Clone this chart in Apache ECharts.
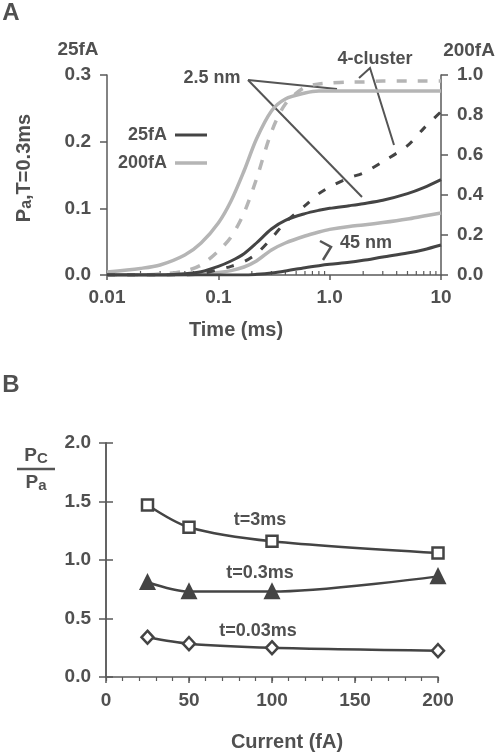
<!DOCTYPE html>
<html><head><meta charset="utf-8">
<script src="https://cdn.jsdelivr.net/npm/echarts@6/dist/echarts.min.js"></script>
<style>html,body{margin:0;padding:0;background:#fff}#c{width:495px;height:755px}</style>
</head><body><div id="c"></div>
<script>
// ---------- Panel A data (time in ms, log axis) ----------
const timeMs = [0.01,0.02,0.03,0.05,0.07,0.1,0.13,0.17,0.22,0.3,0.4,0.6,0.8,1,1.5,2,3,5,7,10];
// 25 fA curves (left axis, Pa)
const pa25_2p5nm   = [0,0,0,0.002,0.005,0.013,0.021,0.032,0.048,0.069,0.082,0.092,0.097,0.1,0.104,0.107,0.112,0.122,0.131,0.143];
const pa25_cluster = [0,0,0,0,0.002,0.008,0.013,0.02,0.032,0.055,0.079,0.104,0.122,0.132,0.146,0.153,0.17,0.194,0.22,0.245];
const pa25_45nm    = [0,0,0,0,0,0,0,0,0.001,0.003,0.006,0.011,0.014,0.016,0.019,0.022,0.027,0.033,0.038,0.045];
// 200 fA curves (right axis, Pa)
const pa200_2p5nm   = [0.015,0.033,0.05,0.1,0.16,0.26,0.37,0.52,0.68,0.82,0.88,0.91,0.92,0.92,0.92,0.92,0.92,0.92,0.92,0.92];
const pa200_cluster = [0,0,0.005,0.02,0.05,0.12,0.19,0.31,0.48,0.715,0.855,0.94,0.955,0.96,0.965,0.965,0.97,0.97,0.97,0.97];
const pa200_45nm    = [0,0,0,0.002,0.005,0.012,0.022,0.04,0.07,0.125,0.16,0.195,0.215,0.228,0.243,0.25,0.262,0.28,0.295,0.31];
const logMinorTicks = [0.02,0.03,0.04,0.05,0.06,0.07,0.08,0.09,0.2,0.3,0.4,0.5,0.6,0.7,0.8,0.9,2,3,4,5,6,7,8,9];
const timeTickLabels = {'0.01':'0.01','0.1':'0.1','1':'1.0','10':'10'};

// ---------- Panel B data ----------
const currentFA = [25,50,100,200];
const ratio_t3ms   = [1.47,1.28,1.16,1.06];
const ratio_t0p3ms = [0.81,0.73,0.73,0.86];
const ratio_t0p03ms= [0.34,0.285,0.25,0.225];

const FONT = "'Liberation Sans', Arial, sans-serif";
const TXT = '#505050';
const AX = '#5a5a5a';
const DARK = '#444444';
const LIGHT = '#b5b5b5';

function pairs(xs, ys){ return xs.map((x,i)=>[x, ys[i]]); }
function fmt1(v){ return v.toFixed(1); }

const chart = echarts.init(document.getElementById('c'), null, {renderer:'canvas'});

const axLine = {show:true, lineStyle:{color:AX, width:1.5}};
const lblStyle = {color:TXT, fontFamily:FONT, fontWeight:'bold', fontSize:19};

function darkLine(name, data, dashed){
  return {type:'line', name, xAxisIndex:0, yAxisIndex:0, data, symbol:'none', smooth:0.3,
    itemStyle:{color:DARK},
    lineStyle:{color:DARK, width:3, type: dashed ? [8,12] : 'solid'}, z:3};
}
function lightLine(name, data, dashed){
  return {type:'line', name, xAxisIndex:0, yAxisIndex:1, data, symbol:'none', smooth:0.3,
    itemStyle:{color:LIGHT},
    lineStyle:{color:LIGHT, width:3.5, type: dashed ? [10,11] : 'solid'}, z:2};
}
function bLine(data, symbol, size, filled){
  return {type:'line', xAxisIndex:1, yAxisIndex:2, data, symbol, symbolSize:size, smooth:0.3,
    showSymbol:true,
    lineStyle:{color:DARK, width:2.5},
    itemStyle:{color: filled ? DARK : '#ffffff', borderColor:DARK, borderWidth:2.5}};
}

const legendText = {color:TXT, fontFamily:FONT, fontWeight:'bold', fontSize:18, padding:[0,3,0,0]};
const option = {
  animation:false,
  backgroundColor:'#ffffff',
  grid:[
    {left:107, top:75, width:334, height:200},
    {left:106, top:443, width:332, height:234}
  ],
  legend:[
    {data:['25fA'], right:283, top:121, orient:'vertical', align:'right', icon:'rect',
     itemWidth:32, itemHeight:3, textStyle:legendText},
    {data:['200fA'], right:283, top:149, orient:'vertical', align:'right', icon:'rect',
     itemWidth:32, itemHeight:3.5, textStyle:legendText}
  ],
  xAxis:[
    {type:'log', logBase:10, gridIndex:0, min:0.01, max:10,
     axisLine:axLine, axisTick:{show:true, length:5, lineStyle:{color:AX, width:1.5}},
     axisLabel:Object.assign({margin:13, formatter:v=>timeTickLabels[String(+v.toPrecision(3))] || ''}, lblStyle),
     splitLine:{show:false}},
    {type:'value', gridIndex:1, min:0, max:200, interval:50,
     axisLine:axLine, axisTick:{show:true, length:6, lineStyle:{color:AX, width:1.5}},
     axisLabel:Object.assign({margin:14}, lblStyle), splitLine:{show:false}},
    {type:'value', gridIndex:1, min:0, max:200, interval:10,
     axisLine:{show:false}, axisTick:{show:true, inside:true, length:4, lineStyle:{color:AX, width:1.2}},
     axisLabel:{show:false}, splitLine:{show:false}}
  ],
  yAxis:[
    {type:'value', gridIndex:0, position:'left', min:0, max:0.3, interval:0.1,
     axisLine:axLine, axisTick:{show:true, length:7, lineStyle:{color:AX, width:1.5}},
     axisLabel:Object.assign({margin:16, formatter:fmt1}, lblStyle), splitLine:{show:false}},
    {type:'value', gridIndex:0, position:'right', min:0, max:1.0, interval:0.2,
     axisLine:axLine, axisTick:{show:true, length:7, lineStyle:{color:AX, width:1.5}},
     axisLabel:Object.assign({margin:16, formatter:fmt1}, lblStyle), splitLine:{show:false}},
    {type:'value', gridIndex:1, position:'left', min:0, max:2.0, interval:0.5,
     axisLine:axLine, axisTick:{show:true, length:7, lineStyle:{color:AX, width:1.5}},
     axisLabel:Object.assign({margin:15, formatter:fmt1}, lblStyle), splitLine:{show:false}},
    {type:'value', gridIndex:1, position:'right', min:0, max:2.0, interval:0.5,
     axisLine:axLine, axisTick:{show:true, length:7, lineStyle:{color:AX, width:1.5}},
     axisLabel:{show:false}, splitLine:{show:false}}
  ],
  series:[
    lightLine('200fA', pairs(timeMs, pa200_2p5nm), false),
    lightLine('200fA', pairs(timeMs, pa200_cluster), true),
    lightLine('200fA', pairs(timeMs, pa200_45nm), false),
    darkLine('25fA', pairs(timeMs, pa25_2p5nm), false),
    darkLine('25fA', pairs(timeMs, pa25_cluster), true),
    darkLine('25fA', pairs(timeMs, pa25_45nm), false),
    {type:'custom', xAxisIndex:0, yAxisIndex:0, silent:true, clip:false,
     data: logMinorTicks.map(t=>[t,0]),
     renderItem:(params, api)=>{
       const p = api.coord([api.value(0), 0]);
       return {type:'line', shape:{x1:p[0], y1:p[1], x2:p[0], y2:p[1]-4}, style:{stroke:AX, lineWidth:1.2}};
     }},
    bLine(pairs(currentFA, ratio_t3ms), 'rect', 11, false),
    bLine(pairs(currentFA, ratio_t0p3ms), 'triangle', 13, true),
    bLine(pairs(currentFA, ratio_t0p03ms), 'diamond', [12,13], false)
  ],
  graphic:[]
};

function txt(x, y, text, size, extra){
  return Object.assign({type:'text', x, y, silent:true,
    style:{text, fill:TXT, font:`bold ${size}px ${FONT}`, align:'center', verticalAlign:'middle'}}, extra||{});
}
function seg(points, w){
  return {type:'polyline', silent:true, shape:{points}, style:{stroke:'#555555', lineWidth:w||2, fill:null}};
}

option.graphic = [
  txt(11, 13, 'A', 24),
  txt(11, 385, 'B', 24),
  txt(78, 50, '25fA', 19),
  txt(469, 51, '200fA', 19),
  {type:'text', x:24, y:168, rotation:Math.PI/2, silent:true,
   style:{text:'{p|P}{s|a}{p|,T=0.3ms}', align:'center', verticalAlign:'middle', fill:TXT,
     rich:{p:{fontSize:20, fontWeight:'bold', fontFamily:FONT, fill:TXT, lineHeight:22},
           s:{fontSize:16, fontWeight:'bold', fontFamily:FONT, fill:TXT, lineHeight:12, verticalAlign:'bottom'}}}},
  txt(236, 330, 'Time (ms)', 20),
  txt(212, 78, '2.5 nm', 18),
  txt(375, 59, '4-cluster', 18),
  txt(366, 243, '45 nm', 18),
  seg([[248,80],[337,89]]),
  seg([[248,80],[362,197]]),
  seg([[359,78],[370,68],[394,145]]),
  seg([[320,241],[331,247],[323,260]], 2.5),
  // panel B
  txt(287, 742, 'Current (fA)', 20),
  txt(260, 520, 't=3ms', 18),
  txt(260, 573, 't=0.3ms', 18),
  txt(258, 631, 't=0.03ms', 18),
  {type:'text', x:36, y:456, silent:true,
   style:{text:'{p|P}{s|C}', align:'center', verticalAlign:'middle', fill:TXT,
     rich:{p:{fontSize:19, fontWeight:'bold', fontFamily:FONT, fill:TXT, lineHeight:20},
           s:{fontSize:15, fontWeight:'bold', fontFamily:FONT, fill:TXT, lineHeight:14, verticalAlign:'bottom'}}}},
  {type:'line', silent:true, shape:{x1:17, y1:469, x2:55, y2:469}, style:{stroke:'#555555', lineWidth:2.5}},
  {type:'text', x:36, y:483, silent:true,
   style:{text:'{p|P}{s|a}', align:'center', verticalAlign:'middle', fill:TXT,
     rich:{p:{fontSize:19, fontWeight:'bold', fontFamily:FONT, fill:TXT, lineHeight:20},
           s:{fontSize:15, fontWeight:'bold', fontFamily:FONT, fill:TXT, lineHeight:14, verticalAlign:'bottom'}}}}
];

chart.setOption(option);
</script>
</body></html>
